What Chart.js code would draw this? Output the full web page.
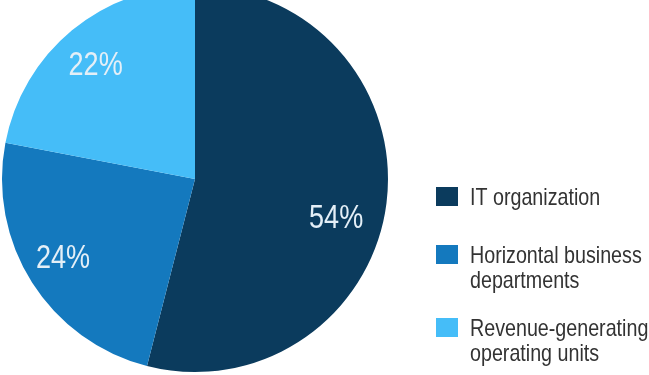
<!DOCTYPE html>
<html>
<head>
<meta charset="utf-8">
<script src="https://cdn.jsdelivr.net/npm/chart.js@4"></script>
<style>
html,body{margin:0;padding:0;background:#fff;overflow:hidden;width:649px;height:375px;}
#wrap{position:absolute;left:0;top:-15px;width:649px;height:400px;}
</style>
</head>
<body>
<div id="wrap"><canvas id="c"></canvas></div>
<script>
const categories = ["IT organization", "Horizontal business departments", "Revenue-generating operating units"];
const legendLines = [["IT organization"], ["Horizontal business", "departments"], ["Revenue-generating", "operating units"]];
const values = [54, 24, 22];
const colors = ["#0b3b5d", "#1479be", "#45bdf8"];

function condensedText(ctx, text, x, y, sx) {
  ctx.save();
  ctx.translate(x, y);
  ctx.scale(sx, 1);
  ctx.fillText(text, 0, 0);
  ctx.restore();
}

const labelPlugin = {
  id: 'sliceLabels',
  afterDatasetsDraw(chart, args, opts) {
    const ctx = chart.ctx;
    const meta = chart.getDatasetMeta(0);
    const total = values.reduce((a, b) => a + b, 0);
    ctx.save();
    ctx.font = opts.font;
    ctx.fillStyle = opts.color;
    ctx.textAlign = 'center';
    ctx.textBaseline = 'middle';
    meta.data.forEach((arc, i) => {
      const p = arc.getProps(['x', 'y', 'startAngle', 'endAngle', 'outerRadius'], true);
      const mid = (p.startAngle + p.endAngle) / 2 + (opts.angleShift[i] || 0);
      const r = p.outerRadius * opts.radiusFrac[i];
      const pct = Math.round(values[i] / total * 100) + '%';
      condensedText(ctx, pct, p.x + Math.cos(mid) * r, p.y + Math.sin(mid) * r, opts.scaleX);
    });
    ctx.restore();
  }
};

const legendPlugin = {
  id: 'sideLegend',
  afterDraw(chart, args, opts) {
    const ctx = chart.ctx;
    ctx.save();
    ctx.font = opts.font;
    ctx.textBaseline = 'alphabetic';
    ctx.textAlign = 'left';
    legendLines.forEach((lines, i) => {
      const top = opts.tops[i];
      ctx.fillStyle = colors[i];
      ctx.fillRect(opts.x, top, opts.boxW, opts.boxH);
      ctx.fillStyle = opts.color;
      lines.forEach((t, j) => {
        condensedText(ctx, t, opts.textX, top + opts.firstBaseline + j * opts.lineHeight, opts.scaleX);
      });
    });
    ctx.restore();
  }
};

new Chart(document.getElementById('c'), {
  type: 'pie',
  data: {
    labels: categories,
    datasets: [{
      data: values,
      backgroundColor: colors,
      borderWidth: 0
    }]
  },
  options: {
    responsive: true,
    maintainAspectRatio: false,
    animation: false,
    layout: { padding: { left: 2, top: 0, right: 261, bottom: 12 } },
    plugins: {
      legend: { display: false },
      tooltip: { enabled: false },
      sliceLabels: {
        font: '33px "Liberation Sans", Arial, sans-serif',
        color: '#e4eff7',
        scaleX: 0.82,
        radiusFrac: [0.76, 0.8, 0.78],
        angleShift: [0.15, 0.02, -0.03]
      },
      sideLegend: {
        font: '24px "Liberation Sans", Arial, sans-serif',
        color: '#333333',
        scaleX: 0.82,
        x: 436, boxW: 22, boxH: 19,
        tops: [202, 260, 333],
        textX: 470, firstBaseline: 18, lineHeight: 25
      }
    }
  },
  plugins: [labelPlugin, legendPlugin]
});
</script>
</body>
</html>
